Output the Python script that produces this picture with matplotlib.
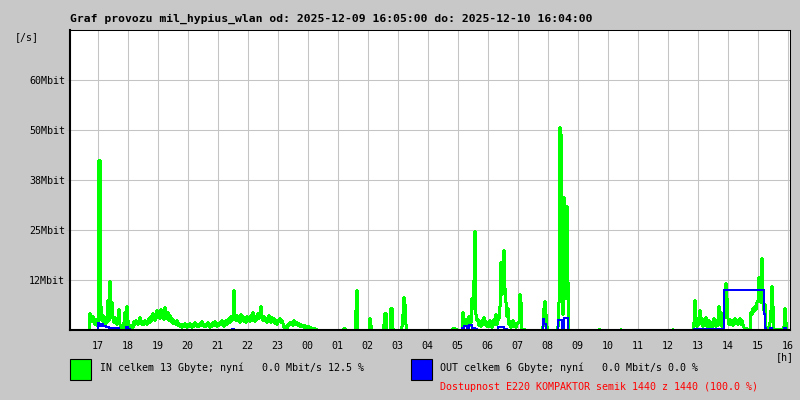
"""Traffic graph (MRTG style) for mil_hypius_wlan, one day, 2 min steps."""

import matplotlib
matplotlib.use('Agg')
import matplotlib.pyplot as plt
from matplotlib.patches import Rectangle


TITLE = 'Graf provozu mil_hypius_wlan od: 2025-12-09 16:05:00 do: 2025-12-10 16:04:00'
LEGEND_IN = 'IN celkem 13 Gbyte; nyní   0.0 Mbit/s 12.5 %'
LEGEND_OUT = 'OUT celkem 6 Gbyte; nyní   0.0 Mbit/s 0.0 %'
AVAIL_TEXT = 'Dostupnost E220 KOMPAKTOR semik 1440 z 1440 (100.0 %)'

START = '16:05'   # graph covers 24 h from here

Y_TICKS = [12.5, 25, 37.5, 50, 62.5]
Y_TICK_LABELS = ['12Mbit', '25Mbit', '38Mbit', '50Mbit', '60Mbit']
Y_MAX = 75

HOURS = list(range(17, 41))
HOUR_LABELS = ['17', '18', '19', '20', '21', '22', '23', '00', '01', '02', '03', '04',
               '05', '06', '07', '08', '09', '10', '11', '12', '13', '14', '15', '16']

# IN traffic, Mbit/s; each value holds from its time to the next one
IN_TIMES = [
    '16:05', '16:43', '16:45', '16:47', '16:49', '16:51', '16:53', '16:55', '16:57', '16:59',
    '17:01', '17:05', '17:07', '17:09', '17:11', '17:13', '17:15', '17:17', '17:19', '17:21',
    '17:23', '17:25', '17:27', '17:29', '17:31', '17:33', '17:35', '17:37', '17:39', '17:41',
    '17:43', '17:45', '17:47', '17:49', '17:51', '17:53', '17:55', '17:57', '17:59',
    '18:01', '18:03', '18:05', '18:07', '18:09', '18:11', '18:13', '18:15', '18:17', '18:19',
    '18:21', '18:23', '18:25', '18:27', '18:29', '18:31', '18:33', '18:35', '18:37', '18:39',
    '18:41', '18:43', '18:45', '18:47', '18:49', '18:51', '18:53', '18:55', '18:57', '18:59',
    '19:01', '19:03', '19:05', '19:07', '19:09', '19:11', '19:13', '19:15', '19:17', '19:19',
    '19:21', '19:23', '19:25', '19:27', '19:29', '19:31', '19:33', '19:35', '19:37', '19:39',
    '19:41', '19:43', '19:45', '19:47', '19:49', '19:51', '19:53', '19:55', '19:57', '19:59',
    '20:01', '20:03', '20:05', '20:07', '20:09', '20:11', '20:13', '20:15', '20:17', '20:19',
    '20:21', '20:23', '20:25', '20:27', '20:29', '20:31', '20:33', '20:35', '20:37', '20:39',
    '20:41', '20:43', '20:45', '20:47', '20:49', '20:51', '20:53', '20:55', '20:57', '20:59',
    '21:01', '21:03', '21:05', '21:07', '21:09', '21:11', '21:13', '21:15', '21:17', '21:19',
    '21:21', '21:23', '21:25', '21:27', '21:29', '21:31', '21:33', '21:35', '21:37', '21:39',
    '21:41', '21:43', '21:45', '21:47', '21:49', '21:51', '21:53', '21:55', '21:57', '21:59',
    '22:01', '22:03', '22:05', '22:07', '22:09', '22:11', '22:13', '22:15', '22:17', '22:19',
    '22:21', '22:23', '22:25', '22:27', '22:29', '22:31', '22:33', '22:35', '22:37', '22:39',
    '22:41', '22:43', '22:45', '22:47', '22:49', '22:51', '22:53', '22:55', '22:57', '22:59',
    '23:01', '23:03', '23:05', '23:07', '23:09', '23:11', '23:13', '23:15', '23:17', '23:19',
    '23:21', '23:23', '23:25', '23:27', '23:29', '23:31', '23:33', '23:35', '23:37', '23:39',
    '23:41', '23:43', '23:45', '23:47', '23:49', '23:51', '23:53', '23:55', '23:57', '23:59',
    '00:01', '00:03', '00:05', '00:07', '00:09', '00:11', '00:13', '00:15', '00:17', '00:19',
    '01:11', '01:15', '01:35', '01:37', '01:39', '02:03', '02:05', '02:07', '02:31', '02:33',
    '02:37', '02:45', '02:49', '02:51', '03:07', '03:09', '03:11', '03:13', '03:15', '03:17',
    '04:49', '04:55', '04:59',
    '05:09', '05:11', '05:13', '05:15', '05:17', '05:19', '05:21', '05:23', '05:25', '05:27',
    '05:29', '05:31', '05:33', '05:35', '05:37', '05:39', '05:41', '05:43', '05:45', '05:47',
    '05:49', '05:51', '05:53', '05:55', '05:57', '05:59',
    '06:01', '06:03', '06:05', '06:07', '06:09', '06:11', '06:13', '06:15', '06:17', '06:19',
    '06:21', '06:23', '06:25', '06:27', '06:29', '06:31', '06:33', '06:35', '06:37', '06:39',
    '06:41', '06:43', '06:45', '06:47', '06:49', '06:51', '06:53', '06:55', '06:57', '06:59',
    '07:01', '07:03', '07:05', '07:07', '07:09', '07:11', '07:15', '07:49', '07:51', '07:53',
    '07:55', '07:57', '07:59',
    '08:19', '08:21', '08:23', '08:25', '08:27', '08:29', '08:31', '08:33', '08:35', '08:37',
    '08:39', '08:41',
    '09:41', '09:45', '10:25', '10:27', '12:09', '12:11',
    '12:51', '12:53', '12:55', '12:57', '12:59', '13:01', '13:03', '13:05', '13:07', '13:09',
    '13:11', '13:13', '13:15', '13:17', '13:19', '13:21', '13:23', '13:25', '13:27', '13:29',
    '13:31', '13:33', '13:35', '13:37', '13:39', '13:41', '13:43', '13:45', '13:47', '13:49',
    '13:51', '13:53', '13:55', '13:57', '13:59',
    '14:01', '14:03', '14:05', '14:07', '14:09', '14:11', '14:13', '14:15', '14:17', '14:19',
    '14:21', '14:23', '14:25', '14:27', '14:29', '14:31', '14:33', '14:39', '14:45', '14:47',
    '14:49', '14:51', '14:53', '14:55', '14:57', '14:59',
    '15:01', '15:03', '15:05', '15:07', '15:09', '15:11', '15:13', '15:15', '15:17', '15:19',
    '15:21', '15:23', '15:25', '15:27', '15:29', '15:31', '15:41', '15:51', '15:53', '15:55',
    '15:57', '16:04',
]
IN_MBIT = [
    0.0, 4.3, 3.2, 2.2, 3.6, 2.4, 1.4, 2.8, 1.8, 1.0,
    42.5, 6.0, 2.6, 3.8, 2.0, 1.5, 3.2, 2.0, 7.5, 2.5,
    12.2, 5.0, 7.0, 3.0, 2.0, 3.2, 2.2, 1.6, 2.4, 5.2,
    1.5, 0.8, 1.2, 0.5, 2.0, 4.5, 1.0, 6.0, 2.5,
    0.8, 0.5, 1.2, 0.4, 0.8, 2.2, 1.6, 2.4, 1.8, 1.4,
    2.0, 3.2, 2.0, 1.4, 2.2, 1.6, 2.6, 1.8, 1.4, 2.4,
    3.0, 2.0, 3.4, 2.6, 4.2, 3.0, 2.4, 3.6, 5.0, 3.2,
    4.4, 3.0, 5.2, 3.6, 4.0, 2.8, 5.7, 4.2, 3.0, 4.6,
    2.6, 3.8, 2.2, 3.0, 1.8, 2.6, 2.0, 1.4, 2.4, 1.2,
    1.8, 1.0, 1.6, 0.8, 1.4, 1.0, 1.8, 1.2, 0.8, 1.5,
    1.0, 1.8, 1.2, 0.8, 1.6, 1.1, 2.0, 1.3, 0.9, 1.5,
    1.0, 1.8, 1.2, 2.2, 1.4, 0.9, 1.6, 1.0, 1.4, 2.0,
    1.2, 0.8, 1.5, 1.1, 1.9, 1.3, 2.2, 1.5, 1.0, 1.7,
    1.2, 2.0, 1.4, 2.4, 1.6, 1.0, 1.8, 2.6, 1.5, 2.2,
    3.0, 2.0, 3.4, 2.4, 3.2, 10.0, 3.5, 2.4, 3.8, 2.6,
    3.2, 2.0, 4.0, 2.8, 3.4, 2.2, 3.0, 2.0, 3.6, 2.4,
    3.0, 2.2, 3.8, 2.6, 4.4, 3.0, 2.2, 3.6, 2.8, 4.2,
    3.0, 3.8, 6.0, 3.4, 2.6, 3.6, 2.4, 3.0, 2.0, 2.8,
    3.7, 2.6, 2.0, 3.2, 2.2, 3.0, 1.8, 2.6, 1.6, 2.4,
    2.4, 3.0, 2.0, 2.6, 1.8, 0.8, 0.5, 0.9, 0.6, 1.6,
    1.2, 2.0, 1.5, 1.9, 1.3, 2.6, 1.8, 1.4, 2.0, 1.2,
    1.7, 1.0, 1.5, 0.9, 1.3, 0.8, 1.2, 0.7, 1.0, 0.6,
    0.9, 0.5, 0.8, 0.4, 0.6, 0.3, 0.5, 0.2, 0.3, 0.0,
    0.4, 0.0, 5.0, 10.0, 0.0, 3.0, 1.2, 0.0, 1.5, 4.2,
    0.0, 5.5, 0.5, 0.0, 1.0, 4.0, 8.2, 6.5, 1.5, 0.0,
    0.5, 0.3, 0.0,
    4.5, 1.2, 1.5, 2.8, 1.0, 2.2, 3.5, 1.2, 2.0, 8.0,
    5.5, 12.5, 24.7, 4.0, 2.5, 2.8, 1.2, 2.0, 1.0, 2.6,
    1.4, 3.3, 1.6, 2.2, 0.9, 1.8,
    1.0, 2.4, 1.2, 0.7, 1.6, 2.8, 1.4, 4.0, 1.5, 2.4,
    3.0, 6.0, 17.0, 9.0, 11.0, 20.0, 10.5, 7.0, 3.5, 5.5,
    1.5, 2.2, 0.8, 1.6, 2.5, 1.0, 1.8, 0.7, 1.4, 2.0,
    2.0, 9.0, 7.0, 0.5, 0.3, 0.2, 0.0, 1.0, 5.5, 7.2,
    4.0, 1.0, 0.0,
    1.0, 7.0, 50.7, 49.0, 28.0, 4.0, 33.2, 30.0, 8.0, 31.0,
    12.0, 0.0,
    0.3, 0.0, 0.3, 0.0, 0.3, 0.0,
    2.0, 7.5, 2.0, 1.0, 3.0, 1.5, 5.0, 2.0, 3.0, 1.0,
    2.2, 1.2, 3.3, 1.5, 0.8, 2.5, 1.0, 2.0, 0.6, 1.5,
    3.0, 2.0, 1.0, 2.5, 1.2, 6.0, 2.0, 4.5, 1.0, 0.5,
    3.0, 7.0, 11.7, 8.0, 3.0,
    1.5, 2.8, 1.6, 2.4, 1.3, 2.2, 3.0, 1.8, 2.6, 1.4,
    2.0, 3.0, 1.6, 2.4, 1.5, 0.8, 0.5, 0.2, 4.5, 4.0,
    5.5, 4.8, 6.0, 5.2, 7.0, 7.5,
    13.3, 7.5, 7.0, 18.0, 7.5, 5.0, 6.5, 1.0, 0.4, 0.3,
    0.5, 2.0, 5.0, 11.0, 6.0, 0.3, 0.2, 1.0, 5.5, 2.0,
    0.0, 0.0,
]

# OUT traffic, Mbit/s
OUT_TIMES = [
    '16:05', '17:01', '17:03', '17:07', '17:11', '17:17', '17:23', '17:43', '17:57', '18:01',
    '18:05', '21:29', '21:33', '05:09', '05:13', '05:19', '05:23', '05:29', '05:35', '05:39',
    '06:21', '06:33', '06:39', '07:51', '07:53', '07:57', '08:21', '08:29', '08:33', '08:41',
    '12:53', '13:51', '13:53', '15:13', '15:15', '15:17', '15:25', '15:29', '15:53', '15:57',
    '16:04',
]
OUT_MBIT = [
    0.0, 1.7, 1.0, 1.5, 1.0, 0.8, 0.5, 0.0, 0.7, 0.3,
    0.0, 0.3, 0.0, 0.5, 1.0, 0.4, 1.2, 0.5, 0.2, 0.0,
    0.7, 0.3, 0.0, 2.7, 1.5, 0.0, 2.5, 0.5, 3.0, 0.0,
    0.3, 0.2, 10.0, 4.0, 0.5, 0.0, 0.5, 0.0, 0.5, 0.0,
    0.0,
]


def to_hours(t):
    """'HH:MM' -> hours on a 16..40 axis (next day past midnight)."""
    hh, mm = t.split(':')
    h = int(hh) + int(mm) / 60
    if h < 16:
        h += 24
    return h


def main():
    assert len(IN_TIMES) == len(IN_MBIT)
    assert len(OUT_TIMES) == len(OUT_MBIT)

    mono = 'DejaVu Sans Mono'
    bg = '#c8c8c8'
    W, H = 800, 400

    fig = plt.figure(figsize=(8, 4), dpi=100, facecolor=bg)
    ax = fig.add_axes([70 / W, 1 - 330 / H, 720 / W, 300 / H])
    ax.set_facecolor('white')

    x0 = to_hours(START)
    x1 = x0 + 24

    # last sample closes the day, it sits at the right edge
    in_x = [to_hours(t) for t in IN_TIMES]
    in_x[-1] = x1
    out_x = [to_hours(t) for t in OUT_TIMES]
    out_x[-1] = x1

    ax.plot(in_x, IN_MBIT, drawstyle='steps-post', color='#00ff00', lw=0.9,
            antialiased=False, zorder=3)
    ax.plot(out_x, OUT_MBIT, drawstyle='steps-post', color='#0000ff', lw=1.2,
            antialiased=False, zorder=4)

    ax.set_xlim(x0, x1)
    ax.set_ylim(0, Y_MAX)

    ax.set_xticks(HOURS)
    ax.set_xticklabels(HOUR_LABELS, fontsize=7.2, family=mono)
    ax.set_yticks(Y_TICKS)
    ax.set_yticklabels(Y_TICK_LABELS, fontsize=7.2, family=mono)
    ax.tick_params(axis='x', length=0, pad=8)
    ax.tick_params(axis='y', length=3, pad=0.5, color='#c0c0c0')
    ax.grid(True, color='#c4c4c4', lw=0.75, zorder=1)
    ax.set_axisbelow(True)

    for side in ('left', 'bottom'):
        ax.spines[side].set_linewidth(1.5)
    for side in ('top', 'right'):
        ax.spines[side].set_linewidth(0.75)
    for sp in ax.spines.values():
        sp.set_zorder(5)

    # texts around the plot
    fig.text(70 / W, 1 - 19 / H, TITLE, fontsize=8.2, family=mono,
             fontweight='bold', ha='left', va='center')
    fig.text(15 / W, 1 - 37 / H, '[/s]', fontsize=7.2, family=mono,
             ha='left', va='center')
    fig.text(776 / W, 1 - 357 / H, '[h]', fontsize=7.2, family=mono,
             ha='left', va='center')

    # legend
    for x, col in ((70, '#00ff00'), (411, '#0000ff')):
        fig.add_artist(Rectangle((x / W, 1 - 380 / H), 21 / W, 21 / H,
                                 transform=fig.transFigure, facecolor=col,
                                 edgecolor='black', lw=0.8))
    fig.text(100 / W, 1 - 368 / H, LEGEND_IN, fontsize=7.2, family=mono,
             ha='left', va='center')
    fig.text(440 / W, 1 - 368 / H, LEGEND_OUT, fontsize=7.2, family=mono,
             ha='left', va='center')
    fig.text(440 / W, 1 - 387 / H, AVAIL_TEXT, fontsize=7.2, family=mono,
             ha='left', va='center', color='#ff0000')

    fig.savefig('out.png', dpi=100, facecolor=bg)
    plt.close(fig)


if __name__ == '__main__':
    main()
